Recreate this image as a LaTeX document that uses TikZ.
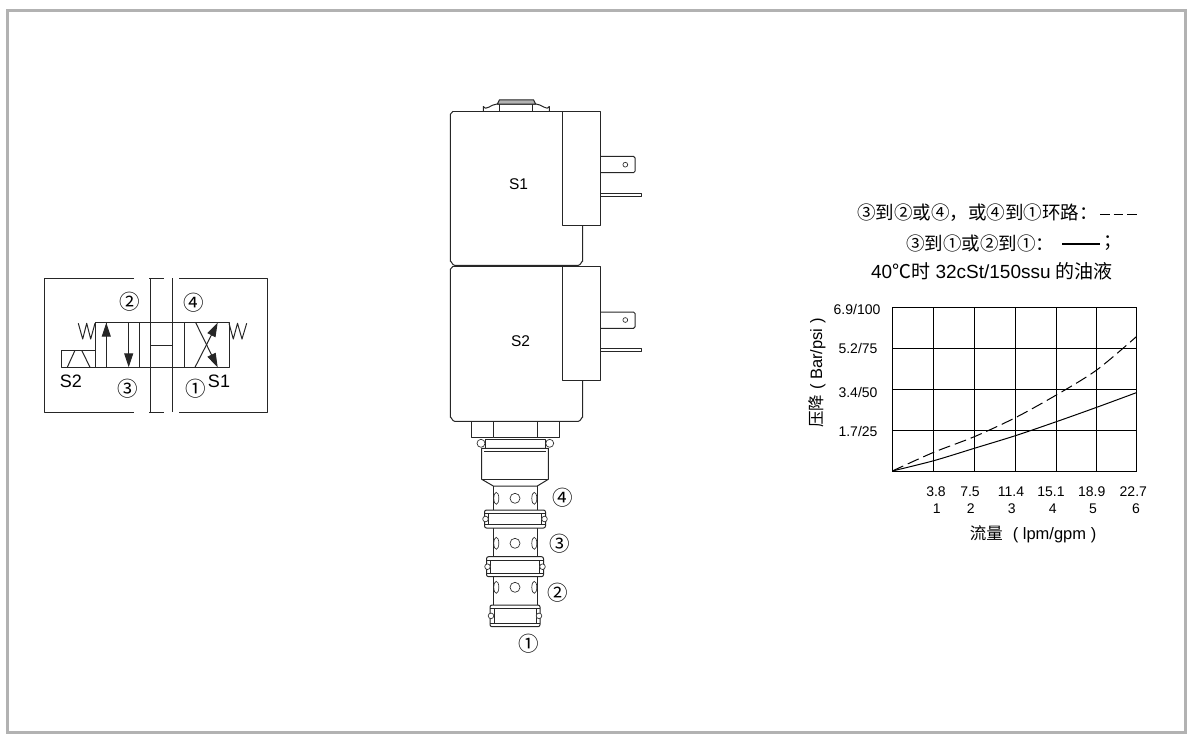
\documentclass[tikz,border=0pt]{standalone}
\usepackage{fontspec}
\setmainfont{Liberation Sans}
\newfontfamily\cjk{Noto Sans CJK SC}
\usetikzlibrary{arrows.meta}
\newcommand{\fsz}[1]{\fontsize{#1}{#1}\selectfont}
\tikzset{
  part/.style={draw=black!85, line width=1pt, line join=round},
  thin part/.style={draw=black!80, line width=0.7pt},
  grid line/.style={draw=black, line width=1pt},
  port/.style={inner sep=0pt, font=\cjk\fsz{20.5}},
  coil label/.style={inner sep=0pt, font=\fsz{15.5}},
  symbol label/.style={inner sep=0pt, font=\fsz{18}},
  note/.style={inner sep=0pt, font=\fsz{18.5}},
  chart title/.style={inner sep=0pt, font=\fsz{16.5}},
  tick label/.style={inner sep=0pt, font=\fsz{14}},
  flow head/.style={-{Triangle[length=14pt, width=9pt]}},
}
\begin{document}
\begin{tikzpicture}[x=1pt, y=-1pt]
  \useasboundingbox (0, 0) rectangle (1199, 739);
  % Frame
  \draw[draw=black!30, line width=3pt] (7.5, 10.5) rectangle (1185.5, 732.5);

  % Symbol outline
  \draw[part] (134, 278.3) -- (44.3, 278.3) -- (44.3, 412) -- (134, 412);
  \draw[part] (179, 278.3) -- (267.7, 278.3) -- (267.7, 412) -- (179, 412);
  \draw[part] (149, 278.3) -- (164, 278.3);
  \draw[part] (149, 412) -- (164, 412);
  \draw[part] (150, 278.3) -- (150, 412);
  \draw[part] (172.7, 278.3) -- (172.7, 412);

  % Symbol valve
  \draw[part] (95, 322.7) rectangle (229, 367.3);
  \foreach \xline in {106.3, 139.7, 184.3} {
    \draw[part] (\xline, 322.7) -- (\xline, 367.3);
  }
  \draw[part] (150, 345) -- (172.7, 345);
  \draw[part] (61.3, 350.3) rectangle (95, 367.3);
  \draw[part] (67.3, 367.3) -- (75, 350.3);
  \draw[part] (81.7, 350.3) -- (90, 367.3);
  \draw[part] (78.3, 323.3) -- (82.7, 339) -- (86.7, 323.3) -- (90.7, 339) -- (95, 323.3);
  \draw[part] (229, 323.3) -- (233.3, 339) -- (237.5, 323.3) -- (242, 339) -- (246.7, 323.3);
  \draw[part, flow head] (106.3, 367.3) -- (106.3, 322.7);
  \draw[part, flow head] (128.7, 322.7) -- (128.7, 367.3);
  \draw[part, flow head] (195, 367.3) -- (217.7, 322.7);
  \draw[part, flow head] (195.7, 322.7) -- (217.7, 367.3);

  % Symbol labels
  \node (sym2) [port] at (130, 301.7) {②};
  \node (sym4) [port] at (193.7, 302.5) {④};
  \node (sym3) [port] at (127.5, 388.5) {③};
  \node (sym1) [port] at (195.5, 388.5) {①};
  \node (symS2) [symbol label] at (71, 381.5) {S2};
  \node (symS1) [symbol label] at (219, 381) {S1};

  % Top nut
  \draw[part] (483.3, 111.3) -- (483.3, 106.5) to[out=-70, in=180] (497, 104) -- (536, 104)
    to[out=0, in=-110] (549.3, 106.5) -- (549.3, 111.3);
  \draw[part] (499.3, 104) -- (499.3, 111.3);
  \draw[part] (532.7, 104) -- (532.7, 111.3);
  \draw[part, fill=black!30] (497.3, 104) -- (499.5, 99.8) -- (533.5, 99.8) -- (535.7, 104) -- cycle;

  % Coils
  \foreach \ctop/\cbot/\boxbot/\tabtop/\hole/\bladetop in {
    111.3/265.3/225.3/156.3/164.7/193.3,
    266.3/421.3/380.3/312/320/348.3} {
    \draw[part] (453, \ctop) -- (600.3, \ctop);
    \draw[part] (453, \ctop) -- (450.3, \ctop+3) -- (450.3, \cbot-4)
      to[out=90, in=180] (454.5, \cbot) -- (578.5, \cbot) to[out=0, in=90] (582.7, \cbot-4) -- (582.7, \boxbot);
    \draw[part] (562.3, \ctop) rectangle (600.3, \boxbot);
    \draw[part, rounded corners=1.5pt] (600.3, \tabtop) -- (635, \tabtop) -- (635, \tabtop+16.4) -- (600.3, \tabtop+16.4);
    \draw[thin part] (625.3, \hole) circle (2.4);
    \draw[part] (600.3, \bladetop) rectangle (641.7, \bladetop+3.3);
  }
  \node (coilS1) [coil label] at (518.5, 184) {S1};
  \node (coilS2) [coil label] at (520.5, 341.5) {S2};

  % Lower nut
  \draw[part] (471.3, 421.3) -- (471.3, 437.7) -- (493.3, 437.7);
  \draw[part] (559.7, 421.3) -- (559.7, 437.7) -- (537.3, 437.7);
  \draw[part] (493.3, 421.3) -- (493.3, 437.7) -- (537.3, 437.7) -- (537.3, 421.3);
  \draw[part] (485, 439) rectangle (545.7, 448.3);
  \draw[thin part] (481, 443.3) circle (4);
  \draw[thin part] (549.7, 443.3) circle (4);

  % Threaded body
  \draw[part] (481.7, 448.3) -- (548.3, 448.3) -- (548.3, 479.3) -- (537.3, 486)
    -- (493.3, 486) -- (481.7, 479.3) -- cycle;
  \draw[part] (484, 451.5) -- (546, 451.5);
  \draw[part] (481.7, 479.3) -- (548.3, 479.3);

  % Spool columns and holes
  \draw[part] (493.3, 486) -- (493.3, 605);
  \draw[part] (537.3, 486) -- (537.3, 605);
  \foreach \yhole in {498.3, 543.3, 587.3} {
    \draw[thin part] (515, \yhole) circle (5);
    \draw[thin part] (496.3, \yhole) ellipse (2.5 and 6);
    \draw[thin part] (534.3, \yhole) ellipse (2.5 and 6);
  }

  % Flanges
  \foreach \ftop/\fbot/\fhalf in {510/528/30.5, 556.7/576.7/28.5, 605/626.7/25} {
    \draw[part, fill=white, rounded corners=2pt] (515-\fhalf, \ftop) rectangle (515+\fhalf, \fbot);
    \draw[part] (515-\fhalf, \ftop+3.6) -- (515+\fhalf, \ftop+3.6);
    \draw[part] (515-\fhalf, \fbot-3.6) -- (515+\fhalf, \fbot-3.6);
    \draw[part] (515-\fhalf+4, \ftop+3.6) -- (515-\fhalf+4, \fbot-3.6);
    \draw[part] (515+\fhalf-4, \ftop+3.6) -- (515+\fhalf-4, \fbot-3.6);
    \draw[thin part, fill=white] (515-\fhalf+1, \ftop/2+\fbot/2) circle (2.8);
    \draw[thin part, fill=white] (515+\fhalf-1, \ftop/2+\fbot/2) circle (2.8);
  }

  % Port labels
  \node (port4) [port] at (562.3, 497.3) {④};
  \node (port3) [port] at (559.3, 543.3) {③};
  \node (port2) [port] at (558, 592.7) {②};
  \node (port1) [port] at (528.3, 644) {①};

  % Notes
  \node (noteA) [note, anchor=west] at (857, 213) {{\cjk ③到②或④，或④到①环路：}};
  \node (noteB) [note, anchor=west] at (906, 243.5) {{\cjk ③到①或②到①：}};
  \node (noteC) [note, font=\fsz{19}] at (992, 271.5) {40{\cjk ℃时} 32cSt/150ssu {\cjk 的油液}};
  \node (noteBend) [note, anchor=west] at (1103, 243.5) {{\cjk ；}};
  \coordinate (dashA) at (1100, 214);
  \coordinate (dashB) at (1138, 214);
  \coordinate (keyA) at (1062, 244);
  \coordinate (keyB) at (1100, 244);
  \draw[draw=black, line width=1pt, dash pattern=on 9.5pt off 4pt] (dashA) -- (dashB);
  \draw[draw=black, line width=1.3pt] (keyA) -- (keyB);

  % Chart grid
  \draw[grid line] (892.3, 307.7) rectangle (1136.3, 471);
  \foreach \xgrid in {933.7, 974.3, 1015.3, 1056.3, 1096.7} {
    \draw[grid line] (\xgrid, 307.7) -- (\xgrid, 471);
  }
  \foreach \ygrid in {348.3, 389.3, 430.3} {
    \draw[grid line] (892.3, \ygrid) -- (1136.3, \ygrid);
  }

  % Chart curves
  \draw[draw=black, line width=1pt] plot[smooth] coordinates {(892.3, 471) (933.7, 460.7) (974.3, 448.3)
    (1015.3, 435.7) (1056.3, 421.7) (1096.7, 407.3) (1136.3, 392.7)};
  \draw[draw=black, line width=1pt, dash pattern=on 12pt off 5pt] plot[smooth] coordinates {(892.3, 471) (933.7, 452.3) (974.3, 436.7)
    (1015.3, 417.7) (1056.3, 395) (1096.7, 370) (1136.3, 336.7)};

  % Chart labels
  \node (y100) [tick label] at (857, 309) {6.9/100};
  \node (y75) [tick label] at (858, 348) {5.2/75};
  \node (y50) [tick label] at (858, 392) {3.4/50};
  \node (y25) [tick label] at (858, 431) {1.7/25};
  \foreach \xa/\xb/\lpm/\gpm in {936/936.7/3.8/1, 970/970.7/7.5/2, 1011/1011.7/11.4/3,
    1051/1052.7/15.1/4, 1091.7/1093/18.9/5, 1133.3/1136/22.7/6} {
    \node (lpm\gpm) [tick label] at (\xa, 491.7) {\lpm};
    \node (gpm\gpm) [tick label] at (\xb, 509) {\gpm};
  }
  \node (xtitle) [chart title] at (1033, 534) {{\cjk 流量}\,\, ( lpm/gpm )};
  \node (ytitle) [chart title, rotate=90] at (817, 373) {{\cjk 压降} ( Bar/psi )};
\end{tikzpicture}
\end{document}
